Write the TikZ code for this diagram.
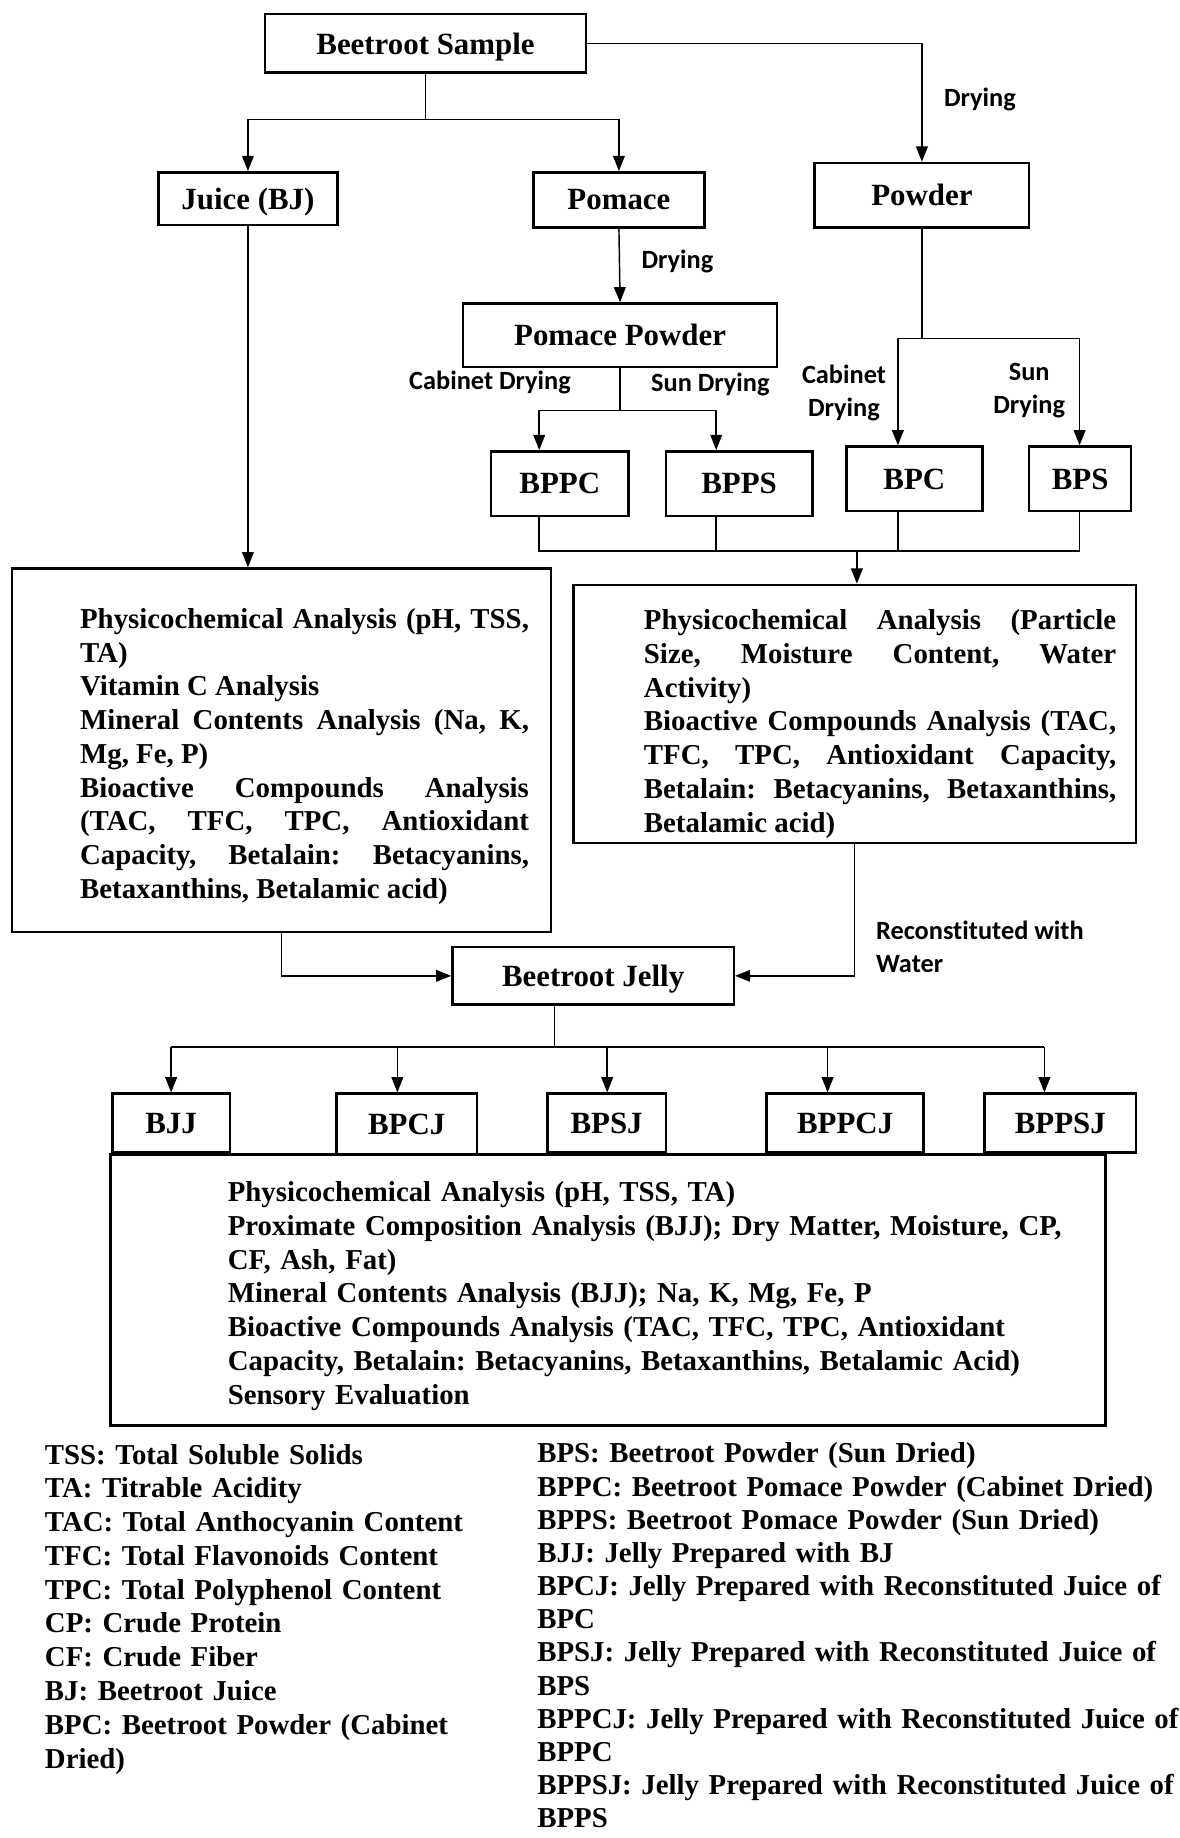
\documentclass[tikz,border=0pt]{standalone}
\usepackage{fontspec}
\setmainfont{Liberation Serif}
\newfontfamily\lblfont{Carlito}[Ligatures=NoCommon]
\usetikzlibrary{arrows.meta}
\hyphenpenalty=10000
\exhyphenpenalty=10000
\frenchspacing

\tikzset{
  box/.style={draw, line width=1.2pt, inner sep=0pt, text depth=0pt, font=\fontsize{15}{18}\selectfont\bfseries},
  con/.style={line width=0.7pt},
  arr/.style={con, -{Triangle[length=0.26cm,width=0.2cm]}},
  lbl/.style={inner sep=0pt, font=\lblfont\fontsize{12.8}{15.9}\selectfont\bfseries},
  txt/.style={inner sep=0pt, anchor=base west, font=\fontsize{14}{16.4}\selectfont\bfseries},
}

\begin{document}
\begin{tikzpicture}[x=0.02cm, y=-0.02cm]
    \useasboundingbox (0,0) rectangle (1006,1568);

    % top part
    \node[box, minimum width=5.48cm, minimum height=1.0cm] (sample) at (363,37) {Beetroot Sample};
    \node[box, minimum width=3.06cm, minimum height=0.9cm] (juice) at (211.5,169.5) {Juice (BJ)};
    \node[box, minimum width=2.92cm, minimum height=0.94cm] (pomace) at (528,170.5) {Pomace};
    \node[box, minimum width=3.66cm, minimum height=1.1cm] (powder) at (786.5,166.5) {Powder};
    \node[box, minimum width=5.36cm, minimum height=1.08cm] (ppowder) at (529,286) {Pomace Powder};
    \node[box, minimum width=2.34cm, minimum height=1.1cm] (bppc) at (477.5,412.5) {BPPC};
    \node[box, minimum width=2.5cm, minimum height=1.1cm] (bpps) at (630.5,412.5) {BPPS};
    \node[box, minimum width=2.32cm, minimum height=1.1cm] (bpc) at (780,408.5) {BPC};
    \node[box, minimum width=1.74cm, minimum height=1.1cm] (bps) at (921.5,408.5) {BPS};

    \node[lbl, anchor=west] (dry1) at (805,85) {Drying};
    \node[lbl, anchor=west] (dry2) at (547,223) {Drying};
    \node[lbl] (cab1) at (418,326) {Cabinet Drying};
    \node[lbl] (sun1) at (606,328) {Sun Drying};
    \node[lbl, align=center] (cab2) at (720,335) {Cabinet\\Drying};
    \node[lbl, align=center] (sun2) at (878,333) {Sun\\Drying};

    \draw[arr] (sample.south) -- (sample.south |- 0,102) -| (juice.north);
    \draw[arr] (sample.south |- 0,102) -| (pomace.north);
    \draw[arr] (sample.east) -| (powder.north);
    \draw[arr] (pomace.south) -- (ppowder.north);
    \draw[arr] (ppowder.south) -- (ppowder.south |- 0,350) -| (460,0 |- bppc.north);
    \draw[arr] (ppowder.south |- 0,350) -| (611,0 |- bpps.north);
    \draw[arr] (powder.south) -- (powder.south |- 0,289) -| (766,0 |- bpc.north);
    \draw[arr] (powder.south |- 0,289) -| (921,0 |- bps.north);

    % analysis boxes
    \node[box, minimum width=9.2cm, minimum height=6.2cm] (juicebox) at (240,640) {};
    \node[txt, text width=7.66cm, align=justify] (juicetxt) at (68,536)
      {Physicochemical Analysis (pH, TSS,\linebreak TA)\\
       Vitamin C Analysis\\
       Mineral Contents Analysis (Na, K,\linebreak Mg, Fe, P)\\
       Bioactive Compounds Analysis\linebreak (TAC, TFC, TPC, Antioxidant\linebreak
       Capacity, Betalain: Betacyanins,\linebreak Betaxanthins, Betalamic acid)};
    \node[box, minimum width=9.6cm, minimum height=4.4cm] (powbox) at (729,609) {};
    \node[txt, text width=8.06cm, align=justify] (powtxt) at (549,537)
      {Physicochemical Analysis (Particle\linebreak Size, Moisture Content, Water\linebreak Activity)\\
       Bioactive Compounds Analysis (TAC,\linebreak TFC, TPC, Antioxidant Capacity,\linebreak
       Betalain: Betacyanins, Betaxanthins,\linebreak Betalamic acid)};

    \coordinate (merge) at (731,470);
    \draw[con] (460,0 |- bppc.south) -- (460,470) -- (921,470) -- (921,0 |- bps.south);
    \draw[con] (611,0 |- bpps.south) -- (611,470);
    \draw[con] (766,0 |- bpc.south) -- (766,470);
    \draw[arr] (merge) -- (merge |- powbox.north);
    \draw[arr] (juice.south) -- (juice.south |- juicebox.north);

    % jelly
    \node[box, minimum width=4.8cm, minimum height=0.98cm] (jelly) at (506,832.5) {Beetroot Jelly};
    \node[lbl, align=left, anchor=west] (recon) at (747,808) {Reconstituted with\\Water};
    \draw[arr] (juicebox.south) |- (jelly.west);
    \draw[arr] (powbox.south) |- (jelly.east);

    \node[box, minimum width=2.0cm, minimum height=1.0cm] (bjj) at (146,958) {BJJ};
    \node[box, minimum width=2.4cm, minimum height=1.04cm] (bpcj) at (347,959) {BPCJ};
    \node[box, minimum width=2.02cm, minimum height=1.0cm] (bpsj) at (517.5,958) {BPSJ};
    \node[box, minimum width=2.68cm, minimum height=1.0cm] (bppcj) at (721,958) {BPPCJ};
    \node[box, minimum width=2.58cm, minimum height=1.0cm] (bppsj) at (904.5,958) {BPPSJ};

    \coordinate (fork) at (473,893);
    \draw[con] (jelly.south -| fork) -- (fork);
    \draw[con] (146,893) -- (891,893);
    \draw[arr] (146,893) -- (146,0 |- bjj.north);
    \draw[arr] (339,893) -- (339,0 |- bpcj.north);
    \draw[arr] (518,893) -- (518,0 |- bpsj.north);
    \draw[arr] (706,893) -- (706,0 |- bppcj.north);
    \draw[arr] (891,893) -- (891,0 |- bppsj.north);

    \node[box, minimum width=16.98cm, minimum height=4.62cm] (jellybox) at (518.5,1100.5) {};
    \node[txt, text width=15cm, align=left] (jellytxt) at (194,1025)
      {Physicochemical Analysis (pH, TSS, TA)\\
       Proximate Composition Analysis (BJJ); Dry Matter, Moisture, CP,\\
       CF, Ash, Fat)\\
       Mineral Contents Analysis (BJJ); Na, K, Mg, Fe, P\\
       Bioactive Compounds Analysis (TAC, TFC, TPC, Antioxidant\\
       Capacity, Betalain: Betacyanins, Betaxanthins, Betalamic Acid)\\
       Sensory Evaluation};

    % abbreviations
    \node[txt, text width=8cm, align=left] (abbr1) at (38,1249)
      {TSS: Total Soluble Solids\\
       TA: Titrable Acidity\\
       TAC: Total Anthocyanin Content\\
       TFC: Total Flavonoids Content\\
       TPC: Total Polyphenol Content\\
       CP: Crude Protein\\
       CF: Crude Fiber\\
       BJ: Beetroot Juice\\
       BPC: Beetroot Powder (Cabinet\\
       Dried)};
    \node[txt, text width=11cm, align=left, font=\fontsize{14}{16.1}\selectfont\bfseries] (abbr2) at (458,1248)
      {BPS: Beetroot Powder (Sun Dried)\\
       BPPC: Beetroot Pomace Powder (Cabinet Dried)\\
       BPPS: Beetroot Pomace Powder (Sun Dried)\\
       BJJ: Jelly Prepared with BJ\\
       BPCJ: Jelly Prepared with Reconstituted Juice of\\
       BPC\\
       BPSJ: Jelly Prepared with Reconstituted Juice of\\
       BPS\\
       BPPCJ: Jelly Prepared with Reconstituted Juice of\\
       BPPC\\
       BPPSJ: Jelly Prepared with Reconstituted Juice of\\
       BPPS};
\end{tikzpicture}
\end{document}
